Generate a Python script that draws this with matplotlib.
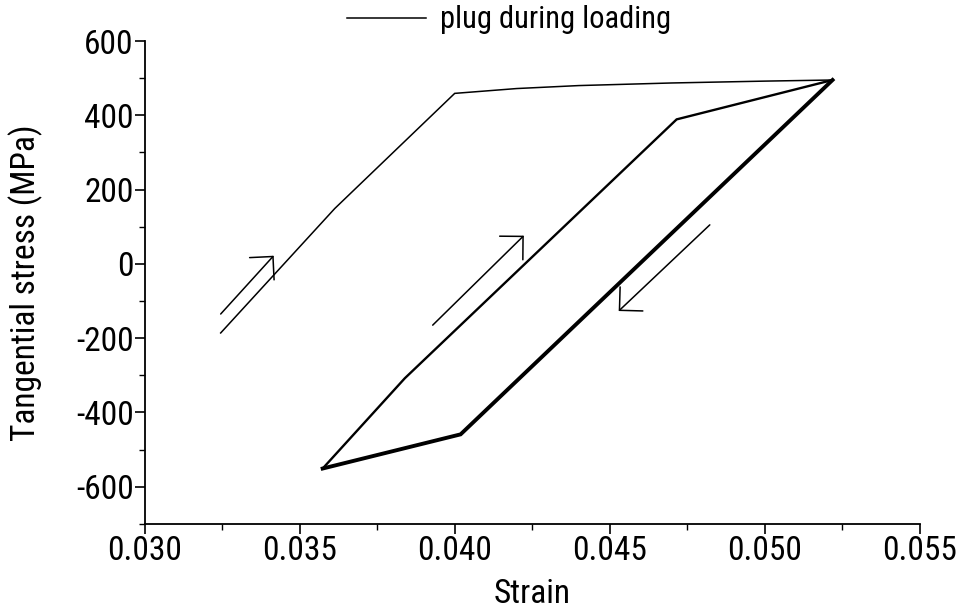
import matplotlib
matplotlib.use("Agg")
import matplotlib.pyplot as plt
from matplotlib import font_manager
from matplotlib.ticker import MultipleLocator


def pick_family(names):
    for name in names:
        try:
            font_manager.findfont(name, fallback_to_default=False)
            return name
        except ValueError:
            pass
    return None


narrow = pick_family(["Liberation Sans Narrow", "Arial Narrow", "Roboto Condensed"])
family = narrow or "Liberation Sans"
FS = 24 if narrow else 21.5

plt.rcParams["font.family"] = [family, "DejaVu Sans"]
plt.rcParams["axes.unicode_minus"] = False

# plug tangential stress vs strain: loading, unloading, reloading
loading_strain = [0.03245, 0.03613, 0.0400, 0.0420, 0.0440, 0.0470, 0.0500, 0.05219]
loading_stress = [-186, 149, 459, 472, 480, 487, 492, 495]

unloading_strain = [0.05219, 0.04019, 0.03574]
unloading_stress = [495, -459, -551]

reloading_strain = [0.03574, 0.03839, 0.04716, 0.05219]
reloading_stress = [-551, -308, 389, 495]

# direction arrows: (tail strain, tail stress, tip strain, tip stress)
arrows = [
    (0.03245, -135, 0.03416, 22),
    (0.03929, -165, 0.04223, 76),
    (0.04823, 105, 0.04529, -127),
]

fig = plt.figure(figsize=(9.65, 6.12), dpi=100)
ax = fig.add_axes([0.150, 0.144, 0.803, 0.789])

line_load, = ax.plot(loading_strain, loading_stress, color="black", lw=1.1,
                     solid_joinstyle="miter", label="plug during loading")
ax.plot(unloading_strain, unloading_stress, color="black", lw=2.8,
        solid_joinstyle="miter")
ax.plot(reloading_strain, reloading_stress, color="black", lw=1.7,
        solid_joinstyle="miter")

for x0, y0, x1, y1 in arrows:
    ax.annotate("", xy=(x1, y1), xytext=(x0, y0),
                arrowprops=dict(arrowstyle="->, head_length=0.7, head_width=0.7",
                                color="black", lw=1.1, shrinkA=0, shrinkB=0,
                                mutation_scale=17))

ax.set_xlim(0.030, 0.055)
ax.set_ylim(-700, 600)
ax.xaxis.set_major_locator(MultipleLocator(0.005))
ax.xaxis.set_minor_locator(MultipleLocator(0.0025))
ax.yaxis.set_major_locator(MultipleLocator(200))
ax.yaxis.set_minor_locator(MultipleLocator(100))
ax.xaxis.set_major_formatter(plt.FuncFormatter(lambda v, p: f"{v:.3f}"))

for side in ("top", "right"):
    ax.spines[side].set_visible(False)
for side in ("left", "bottom"):
    ax.spines[side].set_linewidth(1.3)

ax.tick_params(which="major", direction="out", length=7, width=1.2,
               labelsize=FS, pad=1)
ax.tick_params(which="minor", direction="out", length=4, width=1.0)

ax.set_xlabel("Strain", fontsize=FS, labelpad=8)
ax.set_ylabel("Tangential stress (MPa)", fontsize=FS, labelpad=24)

fig.legend(handles=[line_load], loc="center",
           bbox_to_anchor=(509 / 965, 1 - 20 / 612), frameon=False,
           fontsize=FS - 2, handlelength=2.6, handletextpad=0.45, borderpad=0)

fig.savefig("out.png", dpi=100)
